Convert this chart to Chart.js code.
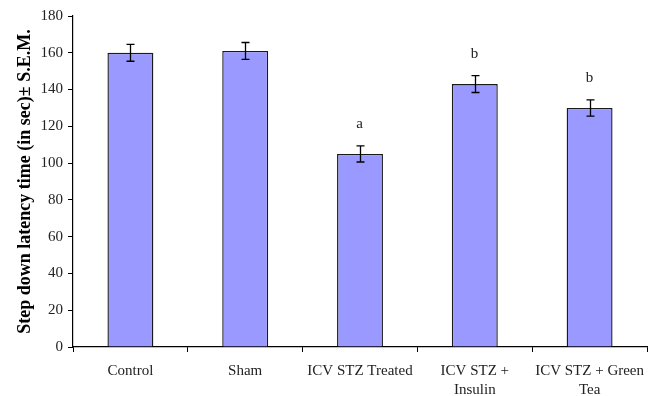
<!DOCTYPE html>
<html>
<head>
<meta charset="utf-8">
<script src="https://cdn.jsdelivr.net/npm/chart.js@4/dist/chart.umd.min.js"></script>
<style>
  html, body { margin: 0; padding: 0; background: #fff; }
  #wrap { width: 656px; height: 396px; position: relative; }
</style>
</head>
<body>
<div id="wrap"><canvas id="c" width="656" height="396"></canvas></div>
<script>
// Step-down latency per treatment group (mean ± S.E.M.)
const groups = [
  'Control',
  'Sham',
  'ICV STZ Treated',
  ['ICV STZ +', 'Insulin'],
  ['ICV STZ + Green', 'Tea']
];
const latency = [160, 161, 105, 143, 130];
const sem = [4.6, 4.6, 4.4, 4.6, 4.4];
const marks = ['', '', 'a', 'b', 'b'];
const yTicks = [0, 20, 40, 60, 80, 100, 120, 140, 160, 180];

const serif = '"Liberation Serif", "Times New Roman", serif';

// Error bars and significance letters, placed with the chart's own scales
const errorBars = {
  id: 'errorBars',
  afterDatasetsDraw(chart) {
    const { ctx, scales: { x, y } } = chart;
    ctx.save();
    ctx.strokeStyle = '#000';
    ctx.lineWidth = 1.3;
    ctx.fillStyle = '#222';
    ctx.font = '15px ' + serif;
    ctx.textAlign = 'center';
    ctx.textBaseline = 'middle';
    latency.forEach((v, i) => {
      const cx = Math.round(x.getPixelForValue(i)) + 0.5;
      const top = y.getPixelForValue(v + sem[i]);
      const bot = y.getPixelForValue(v - sem[i]);
      ctx.beginPath();
      ctx.moveTo(cx, top); ctx.lineTo(cx, bot);
      ctx.moveTo(cx - 4, top); ctx.lineTo(cx + 4, top);
      ctx.moveTo(cx - 4, bot); ctx.lineTo(cx + 4, bot);
      ctx.stroke();
      if (marks[i]) {
        ctx.fillText(marks[i], cx - 1, top - 22);
      }
    });
    ctx.restore();
  }
};

new Chart(document.getElementById('c'), {
  type: 'bar',
  data: {
    labels: groups,
    datasets: [{
      data: latency,
      backgroundColor: '#9999ff',
      borderColor: '#1a1a1a',
      borderWidth: 1.4,
      barPercentage: 0.4,
      categoryPercentage: 1.0
    }]
  },
  options: {
    responsive: false,
    animation: false,
    devicePixelRatio: 1,
    layout: { padding: { top: 16, right: 9, left: 0, bottom: 0 } },
    plugins: { legend: { display: false }, tooltip: { enabled: false } },
    scales: {
      x: {
        grid: {
          offset: true,
          drawOnChartArea: false,
          tickLength: 5,
          color: '#000',
          lineWidth: 1
        },
        border: { color: '#000', width: 1.2 },
        ticks: {
          color: '#222',
          font: { family: serif, size: 15, lineHeight: 1.3 },
          padding: 9,
          maxRotation: 0,
          autoSkip: false
        },
        afterFit(scale) { scale.height = 49; }
      },
      y: {
        min: 0,
        max: 180,
        afterBuildTicks(scale) {
          scale.ticks = yTicks.map(v => ({ value: v }));
        },
        grid: {
          drawOnChartArea: false,
          tickLength: 5,
          color: '#000',
          lineWidth: 1
        },
        border: { color: '#000', width: 1.2 },
        ticks: {
          color: '#222',
          font: { family: serif, size: 15 },
          padding: 5
        },
        title: {
          display: true,
          text: 'Step down latency time (in sec)± S.E.M.',
          color: '#000',
          font: { family: serif, size: 18, weight: 'bold' },
          padding: { top: 15, bottom: 0 }
        },
        afterFit(scale) { scale.width = 73; }
      }
    }
  },
  plugins: [errorBars]
});
</script>
</body>
</html>
